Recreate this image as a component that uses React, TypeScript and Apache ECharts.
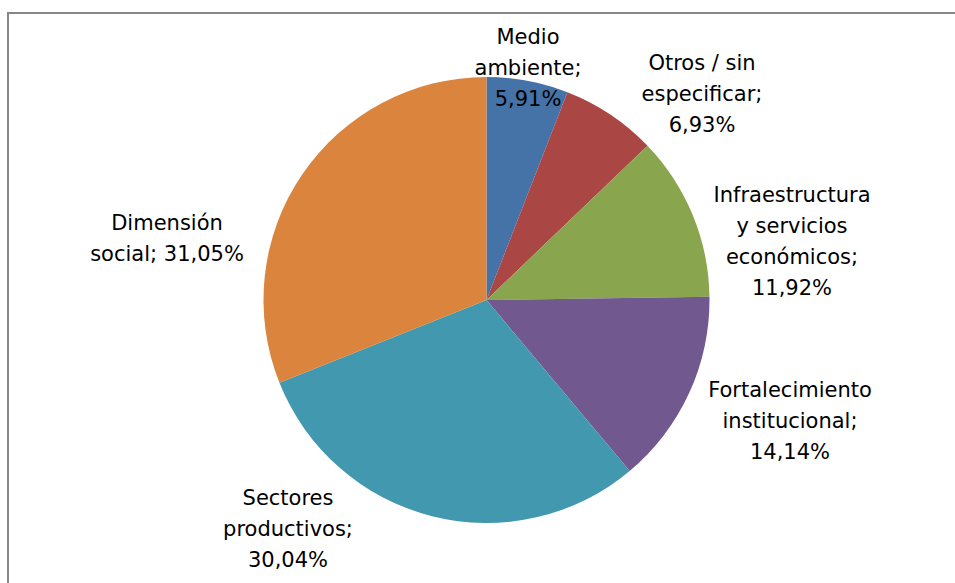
import React, { useEffect, useRef } from "react";
import * as echarts from "echarts";

const categories = [
  "Medio ambiente",
  "Otros / sin especificar",
  "Infraestructura y servicios económicos",
  "Fortalecimiento institucional",
  "Sectores productivos",
  "Dimensión social",
];
const values = [5.91, 6.93, 11.92, 14.14, 30.04, 31.05];
const labelLines = [
  ["Medio", "ambiente;"],
  ["Otros / sin", "especificar;"],
  ["Infraestructura", "y servicios", "económicos;"],
  ["Fortalecimiento", "institucional;"],
  ["Sectores", "productivos;"],
  ["Dimensión", "social;"],
];
const colors = ["#4572A7", "#AA4643", "#89A54E", "#71588F", "#4198AF", "#DB843D"];
// label block centers (layout)
const labelPos = [
  [528, 68],
  [702, 94],
  [792, 241],
  [790, 421],
  [288, 529],
  [167, 238],
];

const fmt = (v: number) => v.toFixed(2).replace(".", ",") + "%";

export default function App() {
  const ref = useRef<HTMLDivElement>(null);
  useEffect(() => {
    if (!ref.current) return;
    const chart = echarts.init(ref.current, null, { renderer: "svg" });
    chart.setOption({
      animation: false,
      backgroundColor: "#ffffff",
      graphic: [
        {
          type: "rect",
          shape: { x: 8, y: 13, width: 1000, height: 700 },
          style: { fill: "none", stroke: "#878787", lineWidth: 2 },
          silent: true,
          z: 0,
        },
      ],
      series: [
        {
          type: "pie",
          center: [486.5, 300],
          radius: 223,
          startAngle: 90,
          clockwise: true,
          color: colors,
          itemStyle: { borderWidth: 0 },
          label: {
            show: true,
            position: "outside",
            color: "#000000",
            fontFamily: "DejaVu Sans",
            fontSize: 21,
            lineHeight: 31,
            align: "center",
            formatter: (p: any) => {
              const lines = labelLines[p.dataIndex].slice();
              const last = lines.length - 1;
              if (p.dataIndex === 5) {
                lines[last] = lines[last] + " " + fmt(p.value);
              } else {
                lines.push(fmt(p.value));
              }
              return lines.join("\n");
            },
          },
          labelLine: { show: false },
          labelLayout: (params: any) => ({
            x: labelPos[params.dataIndex][0],
            y: labelPos[params.dataIndex][1],
            align: "center",
            verticalAlign: "middle",
          }),
          emphasis: { disabled: true },
          data: categories.map((c, i) => ({ name: c, value: values[i] })),
        },
      ],
    });
    return () => chart.dispose();
  }, []);
  return (
    <div
      ref={ref}
      style={{ position: "fixed", left: 0, top: 0, width: 955, height: 583 }}
    />
  );
}
